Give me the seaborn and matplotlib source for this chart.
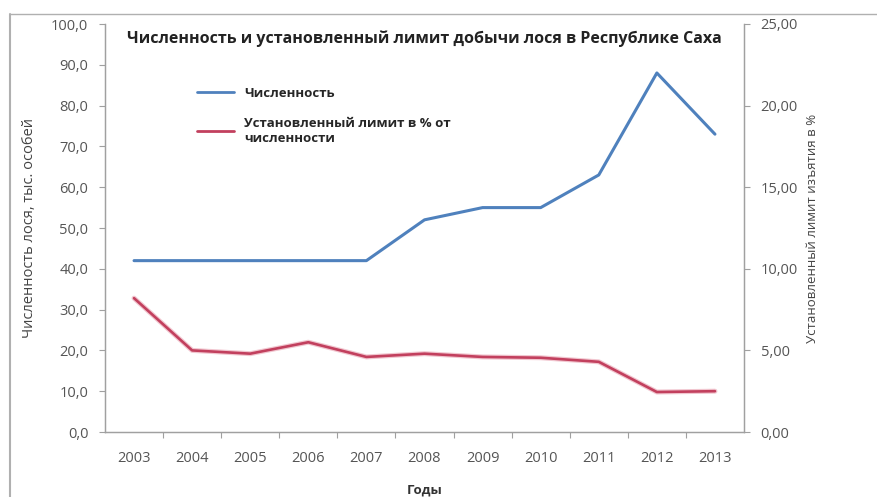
import matplotlib
matplotlib.use("Agg")
import matplotlib.pyplot as plt
import seaborn as sns
import pandas as pd
import numpy as np
from matplotlib.lines import Line2D

years = [2003, 2004, 2005, 2006, 2007, 2008, 2009, 2010, 2011, 2012, 2013]
population = [42, 42, 42, 42, 42, 52, 55, 55, 63, 88, 73]
limit_pct = [8.2, 5.0, 4.8, 5.5, 4.6, 4.8, 4.6, 4.55, 4.3, 2.45, 2.5]
left_ticks = [0, 10, 20, 30, 40, 50, 60, 70, 80, 90, 100]
right_ticks = [0, 5, 10, 15, 20, 25]

sns.set_theme(style="white")
plt.rcParams['font.family'] = ['Open Sans', 'DejaVu Sans']

df = pd.DataFrame({"year": years, "pop": population, "lim": limit_pct})

fig = plt.figure(figsize=(8.78, 4.97), dpi=100)
ax = fig.add_axes([105/878, 1 - 432/497, (744 - 105)/878, (432 - 24)/497])
ax2 = ax.twinx()

blue = "#4f81bd"
red = "#c2405e"

sns.lineplot(data=df, x="year", y="pop", ax=ax, color=blue, linewidth=2.2)
sns.lineplot(data=df, x="year", y="lim", ax=ax2, color="#e8a0b0", linewidth=3.6, alpha=0.6)
sns.lineplot(data=df, x="year", y="lim", ax=ax2, color=red, linewidth=1.9)

ax.set_xlim(2002.5, 2013.5)
ax.set_ylim(0, 100)
ax2.set_ylim(0, 25)
ax.set_xticks(years)
ax.set_xticklabels([str(y) for y in years])
ax.set_xticks(np.array(years[:-1]) + 0.5, minor=True)
ax.set_yticks(left_ticks)
ax.set_yticklabels([f"{v:.1f}".replace(".", ",") for v in left_ticks])
ax2.set_yticks(right_ticks)
ax2.set_yticklabels([f"{v:.2f}".replace(".", ",") for v in right_ticks])

tick_color = "#555555"
for a in (ax, ax2):
    a.tick_params(axis="both", colors=tick_color, labelsize=10.5, length=4, width=0.8)
    for s in a.spines.values():
        s.set_color("#a0a0a0")
        s.set_linewidth(0.9)
    a.spines["top"].set_visible(False)
ax.tick_params(axis="x", which="major", length=0, pad=14)
ax.tick_params(axis="x", which="minor", bottom=True, length=4, width=0.8, color="#a0a0a0", direction="out")
ax.tick_params(axis="y", left=True, direction="out", pad=8, color="#a0a0a0")
ax2.tick_params(axis="y", right=True, direction="out", pad=8, color="#a0a0a0")

ax.set_xlabel("Годы", fontsize=9.5, fontweight="bold", color="#333333", labelpad=12)
ax.set_ylabel("Численность лося, тыс. особей", fontsize=10.5, color="#444444", labelpad=10)
ax2.set_ylabel("Установленный лимит изъятия в %", fontsize=9.5, color="#444444", labelpad=6)

ax.text(0.5, 0.985, "Численность и установленный лимит добычи лося в Республике Саха",
        transform=ax.transAxes, ha="center", va="top", fontsize=11.5,
        fontweight="bold", color="#222222")

handles = [Line2D([0], [0], color=blue, lw=2),
           Line2D([0], [0], color=red, lw=2)]
labels = ["Численность", "Установленный лимит в % от\nчисленности"]
ax.legend(handles, labels, loc="upper left", bbox_to_anchor=(0.125, 0.875),
          frameon=False, handlelength=2.8, labelspacing=1.3,
          prop={"size": 9.5, "weight": "bold"})

fig.add_artist(Line2D([10/878, 10/878], [0, 1 - 14/497], color="#b0b0b0", lw=1.5))
fig.add_artist(Line2D([10/878, 1], [1 - 14/497, 1 - 14/497], color="#b0b0b0", lw=1.0))

fig.savefig("out.png", dpi=100)
